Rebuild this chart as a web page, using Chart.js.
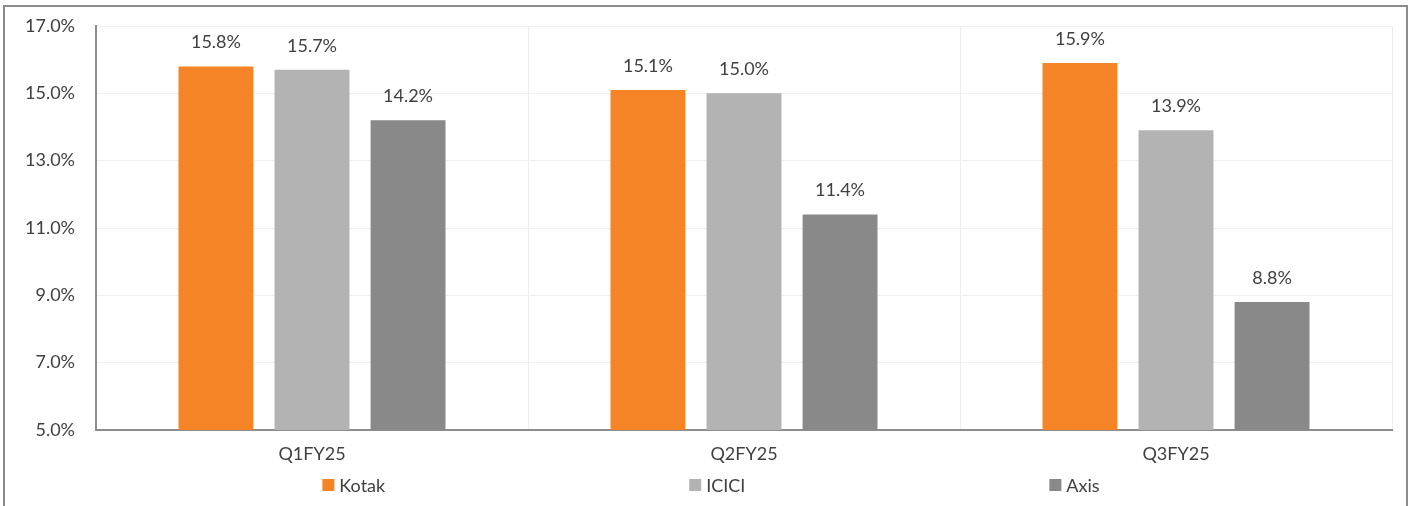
<!DOCTYPE html>
<html>
<head>
<meta charset="utf-8">
<script src="https://cdn.jsdelivr.net/npm/chart.js@4/dist/chart.umd.min.js"></script>
<style>
    html, body { margin: 0; padding: 0; background: #fff; overflow: hidden; }
    #frame {
        position: absolute; left: 3px; top: 5px; width: 1405px; height: 600px;
        border: 2px solid #8c8c8c; box-sizing: border-box;
    }
    #chart { position: absolute; left: 0; top: 0; }
</style>
</head>
<body>
<div id="frame"></div>
<canvas id="chart" width="1414" height="506"></canvas>
<script>
// Datos del gráfico
const quarters = ['Q1FY25', 'Q2FY25', 'Q3FY25'];
const kotak = [15.8, 15.1, 15.9];
const icici = [15.7, 15.0, 13.9];
const axis = [14.2, 11.4, 8.8];
const yTicks = [5, 7, 9, 11, 13, 15, 17];

const FONT = 'Lato, "Open Sans", sans-serif';
const TEXT = '#404040';

// Etiquetas encima de cada barra
const barLabels = {
    id: 'barLabels',
    afterDatasetsDraw(chart) {
        const ctx = chart.ctx;
        ctx.save();
        ctx.font = '18px ' + FONT;
        ctx.fillStyle = TEXT;
        ctx.textAlign = 'center';
        ctx.textBaseline = 'middle';
        chart.data.datasets.forEach((ds, i) => {
            chart.getDatasetMeta(i).data.forEach((bar, j) => {
                ctx.fillText(ds.data[j].toFixed(1) + '%', bar.x, bar.y - 24);
            });
        });
        ctx.restore();
    }
};

// Leyenda abajo, repartida como en Excel
const spreadLegend = {
    id: 'spreadLegend',
    afterDraw(chart) {
        const ctx = chart.ctx;
        const box = 12, gap = 5, spacing = 304, y = 485;
        ctx.save();
        ctx.font = '18px ' + FONT;
        ctx.textBaseline = 'middle';
        const items = chart.data.datasets.map(ds => ({
            label: ds.label, color: ds.backgroundColor,
            w: box + gap + ctx.measureText(ds.label).width
        }));
        const total = items.reduce((s, it) => s + it.w, 0) + spacing * (items.length - 1);
        let x = chart.width / 2 + 4 - total / 2;
        items.forEach(it => {
            ctx.fillStyle = it.color;
            ctx.fillRect(x, y - box / 2, box, box);
            ctx.fillStyle = TEXT;
            ctx.fillText(it.label, x + box + gap, y + 1);
            x += it.w + spacing;
        });
        ctx.restore();
    }
};

new Chart(document.getElementById('chart').getContext('2d'), {
    type: 'bar',
    data: {
        labels: quarters,
        datasets: [
            { label: 'Kotak', data: kotak, backgroundColor: '#F58426' },
            { label: 'ICICI', data: icici, backgroundColor: '#B3B3B3' },
            { label: 'Axis', data: axis, backgroundColor: '#898989' }
        ]
    },
    options: {
        responsive: false,
        animation: false,
        layout: { padding: { top: 26, right: 22, left: 0, bottom: 0 } },
        datasets: { bar: { categoryPercentage: 0.667, barPercentage: 0.78 } },
        plugins: {
            legend: { display: false },
            tooltip: { enabled: false }
        },
        scales: {
            x: {
                grid: { color: '#eeeeee', drawTicks: false, offset: true },
                border: { color: '#8c8c8c', width: 2 },
                ticks: { color: TEXT, font: { family: FONT, size: 18 }, padding: 13 },
                afterFit(scale) { scale.height = 76; scale.paddingLeft = 0; scale.paddingRight = 0; }
            },
            y: {
                min: 5,
                max: 17,
                afterBuildTicks(scale) { scale.ticks = yTicks.map(v => ({ value: v })); },
                grid: { color: '#f0f0f0', drawTicks: false },
                border: { color: '#8c8c8c', width: 2 },
                ticks: {
                    color: TEXT, font: { family: FONT, size: 18 }, padding: 21,
                    callback: v => v.toFixed(1) + '%'
                },
                afterFit(scale) { scale.width = 96; scale.paddingTop = 0; scale.paddingBottom = 0; }
            }
        }
    },
    plugins: [barLabels, spreadLegend]
});
</script>
</body>
</html>
